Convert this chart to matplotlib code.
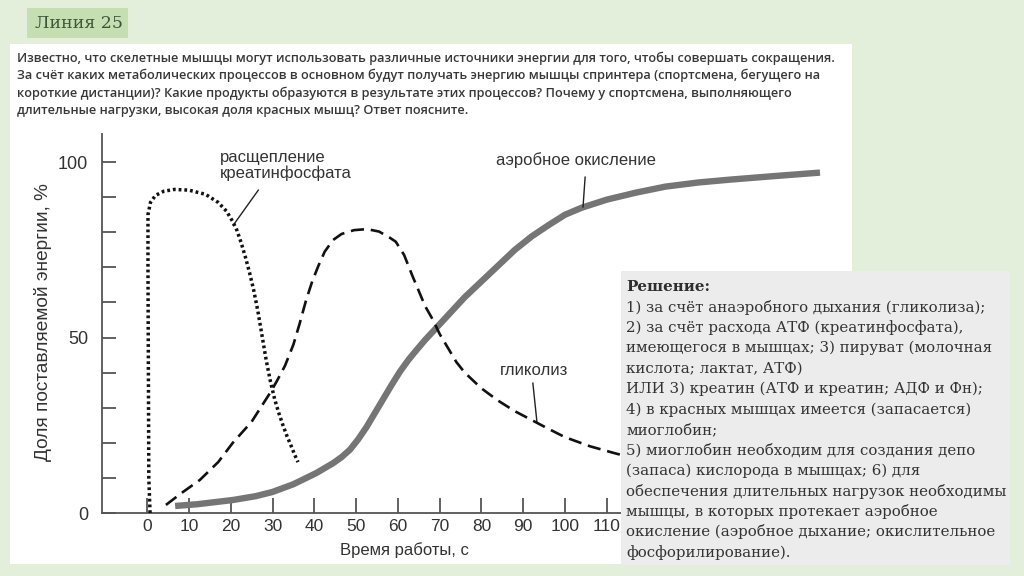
import matplotlib
matplotlib.use("Agg")
import matplotlib.pyplot as plt
from matplotlib.patches import Rectangle

W, H = 1024, 576

# --- data ---
# креатинфосфат (dotted)
cp_x = [0.7, 0.4, 0.3, 0.2, 0.2, 0.8, 2.0, 4.0, 6.5, 10.0, 14.0, 17.0, 19.0, 20.5, 21.5,
        22.5, 23.5, 24.5, 25.5, 26.5, 27.5, 28.5, 29.5, 30.5, 31.5, 32.5, 33.5, 34.5, 35.3, 36.1]
cp_y = [0, 10, 40, 70, 85, 88.5, 90.5, 91.7, 92.2, 92.0, 90.8, 88.5, 86.0, 83.0, 80.5,
        77.0, 73.0, 68.5, 63.5, 57.5, 50.5, 43.5, 37.5, 32.5, 28.5, 25.0, 21.8, 19.0, 16.6, 14.5]

# гликолиз (dashed)
gl_x = [4.5, 8.0, 12.6, 17.0, 20.5, 25.0, 29.3, 31.0, 33.0, 35.0, 36.5, 38.0, 39.5, 41.0,
        42.5, 44.5, 46.5, 49.5, 52.6, 55.5, 58.0, 59.5, 61.5, 63.5, 64.6, 66.5, 68.4, 70.0,
        72.0, 74.0, 76.0, 80.0, 84.0, 88.0, 92.0, 96.0, 100.0, 106.0, 112.0, 120.0]
gl_y = [2.3, 5.5, 9.4, 14.5, 20.0, 26.0, 34.0, 37.5, 42.0, 48.0, 54.0, 60.5, 66.0, 70.5,
        74.5, 77.8, 79.5, 80.6, 80.9, 80.2, 78.5, 77.3, 73.5, 67.5, 64.4, 59.0, 55.0, 51.0,
        47.0, 43.0, 40.0, 35.5, 32.0, 29.0, 26.5, 24.0, 21.6, 19.0, 17.0, 14.5]

# аэробное окисление (thick gray)
ae_x = [6.7, 12.0, 20.5, 26.0, 30.0, 35.0, 40.5, 44.5, 46.5, 48.5, 50.5, 52.5, 54.5, 56.5,
        58.5, 60.5, 62.5, 64.5, 66.5, 69.0, 72.5, 76.0, 80.0, 84.0, 88.0, 92.0, 96.0, 100.0,
        104.0, 110.0, 117.0, 124.0, 132.0, 139.5, 150.0, 161.0]
ae_y = [2.0, 2.5, 3.7, 4.8, 6.0, 8.2, 11.4, 14.2, 15.9, 18.0, 21.0, 24.5, 28.5, 32.5,
        36.5, 40.3, 43.6, 46.5, 49.3, 52.5, 57.0, 61.5, 66.0, 70.5, 75.0, 78.8, 82.0, 85.0,
        87.0, 89.3, 91.3, 93.0, 94.2, 95.0, 96.0, 97.0]

x_ticks = list(range(0, 120, 10))
y_major = [0, 50, 100]
y_minor = list(range(10, 100, 10))

question = [
    "Известно, что скелетные мышцы могут использовать различные источники энергии для того, чтобы совершать сокращения.",
    "За счёт каких метаболических процессов в основном будут получать энергию мышцы спринтера (спортсмена, бегущего на",
    "короткие дистанции)? Какие продукты образуются в результате этих процессов? Почему у спортсмена, выполняющего",
    "длительные нагрузки, высокая доля красных мышц? Ответ поясните.",
]

solution = [
    "1) за счёт анаэробного дыхания (гликолиза);",
    "2) за счёт расхода АТФ (креатинфосфата),",
    "имеющегося в мышцах; 3) пируват (молочная",
    "кислота; лактат, АТФ)",
    "ИЛИ 3) креатин (АТФ и креатин; АДФ и Фн);",
    "4) в красных мышцах имеется (запасается)",
    "миоглобин;",
    "5) миоглобин необходим для создания депо",
    "(запаса) кислорода в мышцах; 6) для",
    "обеспечения длительных нагрузок необходимы",
    "мышцы, в которых протекает аэробное",
    "окисление (аэробное дыхание; окислительное",
    "фосфорилирование).",
]


def fx(px):
    return px / W


def fy(py):
    return 1 - py / H


fig = plt.figure(figsize=(10.24, 5.76), dpi=100)
fig.patch.set_facecolor("#e3efda")

# white sheet and the "Линия 25" tag
fig.add_artist(Rectangle((fx(10), fy(564)), fx(852 - 10), (564 - 44) / H,
                         transform=fig.transFigure, facecolor="white", edgecolor="none", zorder=-5))
fig.add_artist(Rectangle((fx(27), fy(38)), fx(128 - 27), 30 / H,
                         transform=fig.transFigure, facecolor="#c5dfb3", edgecolor="none", zorder=-4))
fig.text(fx(35), fy(23), "Линия 25", family="DejaVu Serif", fontsize=12.5, color="#3a553a",
         va="center", ha="left")

for i, line in enumerate(question):
    fig.text(fx(17), fy(58 + i * 17.5), line, family="Open Sans", fontweight="semibold",
             fontsize=9.2, color="#383838", va="center", ha="left")

# chart
x0, xmax = -10.8, 165
ylim_top = 108
ax = fig.add_axes([fx(102), 1 - 513 / H, fx(147 + xmax * 4.18 - 102), (513 - 134) / H])
ax.set_facecolor("none")
ax.set_xlim(x0, xmax)
ax.set_ylim(0, ylim_top)

ax.plot(ae_x, ae_y, color="#757575", lw=4.6, solid_capstyle="butt", zorder=2)
ax.plot(gl_x, gl_y, color="#111111", lw=1.9, linestyle=(0, (5, 2.6)), zorder=3)
ax.plot(cp_x, cp_y, color="#111111", lw=2.5, linestyle=(0, (0.8, 0.85)), zorder=3)

lbl = dict(family="Liberation Sans", fontsize=12, color="#333333")
ax.text(17.5, 103.5, "расщепление\nкреатинфосфата", ha="left", va="top", linespacing=1.05, **lbl)
ax.plot([26.6, 20.6], [92.0, 82.0], color="#222222", lw=1.0)
ax.text(83.5, 100.5, "аэробное окисление", ha="left", va="center", **lbl)
ax.plot([104.8, 104.3], [95.7, 87.2], color="#222222", lw=1.0)
ax.text(84.3, 38.5, "гликолиз", ha="left", va="bottom", **lbl)
ax.plot([92.3, 93.3], [37.0, 25.6], color="#222222", lw=1.0)

for s in ["top", "right"]:
    ax.spines[s].set_visible(False)
for s in ["left", "bottom"]:
    ax.spines[s].set_color("#555555")
    ax.spines[s].set_linewidth(1.3)

ax.set_xticks(x_ticks)
ax.set_xticklabels([str(t) for t in x_ticks])
ax.set_yticks(y_major)
ax.set_yticks(y_minor, minor=True)
ax.tick_params(axis="x", direction="in", length=11, width=1.3, color="#555555", pad=4,
               labelsize=12.5, labelcolor="#333333")
ax.tick_params(axis="y", which="both", direction="in", length=10, width=1.3, color="#555555",
               pad=10, labelsize=13, labelcolor="#333333")
for t in ax.get_xticklabels() + ax.get_yticklabels():
    t.set_family("Liberation Sans")

ax.text((405 - 102) / 735, -(550 - 513) / 379, "Время работы, с", transform=ax.transAxes,
        ha="center", va="center", **lbl)
ax.text((43 - 102) / 735, (513 - 322) / 379, "Доля поставляемой энергии, %", transform=ax.transAxes,
        rotation=90, ha="center", va="center", **lbl | {"fontsize": 13.7})

# solution box on top of the chart
fig.add_artist(Rectangle((fx(621), fy(565)), fx(1010 - 621), (565 - 271) / H,
                         transform=fig.transFigure, facecolor="#ececec", edgecolor="none", zorder=5))
fig.text(fx(626), fy(287), "Решение:", family="DejaVu Serif", fontweight="bold", fontsize=10.8,
         color="#2e2e2e", va="center", ha="left", zorder=6)
for i, line in enumerate(solution):
    fig.text(fx(626), fy(307.5 + i * 20.4), line, family="DejaVu Serif", fontsize=10.8,
             color="#333333", va="center", ha="left", zorder=6)

fig.savefig("out.png", dpi=100, facecolor=fig.get_facecolor())
